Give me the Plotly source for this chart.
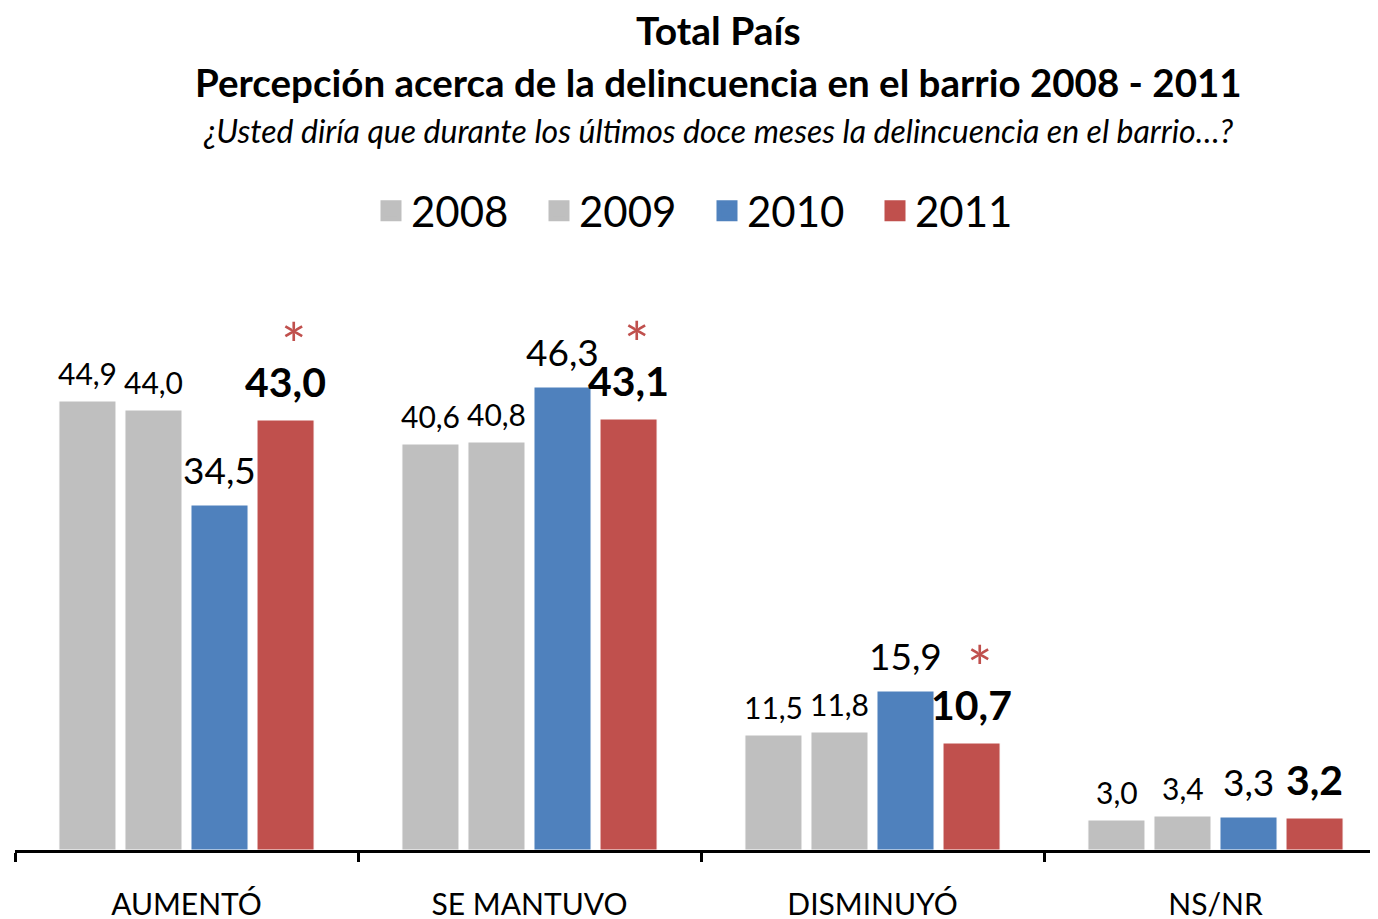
import plotly.graph_objects as go

categorias = ['AUMENTÓ', 'SE MANTUVO', 'DISMINUYÓ', 'NS/NR']
anios = ['2008', '2009', '2010', '2011']
valores = {
    '2008': [44.9, 40.6, 11.5, 3.0],
    '2009': [44.0, 40.8, 11.8, 3.4],
    '2010': [34.5, 46.3, 15.9, 3.3],
    '2011': [43.0, 43.1, 10.7, 3.2],
}
significativo = [True, True, True, False]

colores = {'2008': '#BFBFBF', '2009': '#BFBFBF', '2010': '#4F81BD', '2011': '#C0504D'}
fuente = 'Lato'

ANCHO, ALTO = 1378, 919
DESPL = 8  # margen del body de la pagina
M_IZQ = 15 - DESPL
M_INF = ALTO - (850 - DESPL)
M_SUP = ALTO - M_INF - 500
alto_plot = ALTO - M_SUP - M_INF
ancho_plot = ANCHO - M_IZQ


def px_a_paper(xpix, ypix):
    # coordenadas de la captura -> coordenadas paper
    return (xpix - DESPL - M_IZQ) / ancho_plot, (ALTO - M_INF - (ypix - DESPL)) / alto_plot


fig = go.Figure()

for anio in anios:
    fig.add_trace(go.Bar(
        x=categorias,
        y=valores[anio],
        name=anio,
        marker={'color': colores[anio], 'line': {'color': 'white', 'width': 1}},
        showlegend=False,
        hoverinfo='x+y+name'
    ))

# leyenda con cuadrados grandes
for anio in anios:
    fig.add_trace(go.Scatter(
        x=[None], y=[None], mode='markers', name=anio,
        marker={'symbol': 'square', 'size': 16, 'color': colores[anio],
                'line': {'color': colores[anio], 'width': 6}},
        showlegend=True
    ))

paso = 66  # separacion en pixeles entre barras de un grupo
anotaciones = []
for i, anio in enumerate(anios):
    desplaz = (i - 1.5) * paso
    for j, cat in enumerate(categorias):
        v = valores[anio][j]
        texto = ('%.1f' % v).replace('.', ',')
        if anio == '2011':
            fnt = {'family': fuente, 'size': 41, 'color': 'black'}
            texto = '<b>' + texto + '</b>'
            ys = 12
        elif anio == '2010':
            fnt = {'family': fuente, 'size': 37, 'color': 'black'}
            ys = 11
        else:
            fnt = {'family': fuente, 'size': 30, 'color': 'black'}
            ys = 8
        anotaciones.append(dict(
            x=cat, y=v, xref='x', yref='y', text=texto, showarrow=False,
            xshift=desplaz, yshift=ys, yanchor='bottom', font=fnt
        ))
        if anio == '2011' and significativo[j]:
            anotaciones.append(dict(
                x=cat, y=v, xref='x', yref='y', text='*', showarrow=False,
                xshift=desplaz + 8, yshift=70, yanchor='bottom',
                height=40, valign='top',
                font={'family': fuente, 'size': 60, 'color': '#C0504D'}
            ))

titulos = [
    ('<b>Total País</b>', 30, 39),
    ('<b>Percepción acerca de la delincuencia en el barrio 2008 - 2011</b>', 82, 38.5),
    ('<i>¿Usted diría que durante los últimos doce meses la delincuencia en el barrio…?</i>', 130, 32),
]
for texto, ypix, tam in titulos:
    xp, yp = px_a_paper(718, ypix)
    anotaciones.append(dict(
        x=xp, y=yp, xref='paper', yref='paper', text=texto, showarrow=False,
        xanchor='center', yanchor='middle',
        font={'family': fuente, 'size': tam, 'color': 'black'}
    ))

xl, _ = px_a_paper(371, 0)

fig.update_layout(
    width=ANCHO, height=ALTO,
    margin={'l': M_IZQ, 'r': 0, 't': M_SUP, 'b': M_INF, 'autoexpand': False},
    paper_bgcolor='white', plot_bgcolor='white',
    barmode='group', bargap=0.23, bargroupgap=0.136,
    showlegend=True,
    legend={
        'orientation': 'h', 'x': xl, 'xanchor': 'left', 'y': 1 - (211 - DESPL) / ALTO, 'yanchor': 'middle',
        'yref': 'container',
        'font': {'family': fuente, 'size': 42, 'color': 'black'},
        'itemsizing': 'trace', 'entrywidth': 123, 'traceorder': 'normal',
        'bgcolor': 'rgba(0,0,0,0)'
    },
    xaxis={
        'type': 'category', 'range': [-0.5, -0.5 + ancho_plot / 343],
        'showline': True, 'linecolor': 'black', 'linewidth': 2.5,
        'ticks': 'outside', 'tickson': 'boundaries', 'ticklen': 9, 'tickwidth': 2.5, 'tickcolor': 'black',
        'tickfont': {'family': fuente, 'size': 30, 'color': 'black'},
        'ticklabelstandoff': 26,
        'showgrid': False, 'zeroline': False, 'fixedrange': True
    },
    yaxis={'range': [0, 50], 'visible': False, 'showgrid': False, 'fixedrange': True},
    font={'family': fuente},
    annotations=anotaciones,
)

fig.write_html('out.html')
